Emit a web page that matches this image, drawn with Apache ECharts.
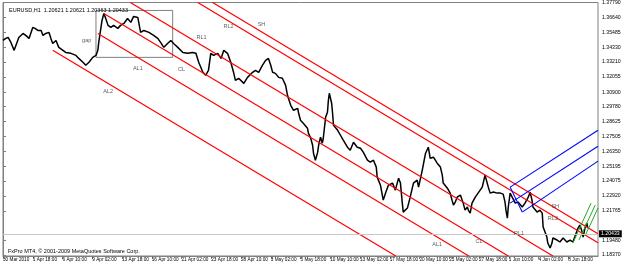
<!DOCTYPE html>
<html><head><meta charset="utf-8">
<script src="https://cdn.jsdelivr.net/npm/echarts@6/dist/echarts.min.js"></script>
<style>html,body{margin:0;padding:0;background:#fff}#c{width:625px;height:264px}</style>
</head><body><div id="c"></div>
<script>
// ---- data ----
const xTickLabels = ['30 Mar 2010','1 Apr 18:00','6 Apr 10:00','9 Apr 02:00','13 Apr 18:00','16 Apr 10:00','21 Apr 02:00','23 Apr 18:00','28 Apr 10:00','3 May 02:00','5 May 18:00','10 May 10:00','13 May 02:00','17 May 18:00','20 May 10:00','25 May 02:00','27 May 18:00','1 Jun 10:00','4 Jun 02:00','8 Jun 18:00'];
const barsPerLabel = 64;
const yTickValues = [1.37790,1.36640,1.35485,1.34330,1.33210,1.32055,1.30900,1.29780,1.28625,1.27505,1.26350,1.25195,1.24075,1.22920,1.21765,1.19480,1.18370];
const yMin = 1.18293, yMax = 1.37790, barMax = 1280;

const priceBars = [0,6,11,17,24,28,34,43,49,56,64,69,75,82,86,92,99,103,107,114,120,129,135,146,157,163,172,178,185,193,200,204,206,210,213,217,221,226,232,238,247,253,260,268,275,281,290,292,296,303,314,324,333,339,346,354,361,367,376,387,397,408,415,421,430,436,442,447,453,462,469,475,483,490,496,500,507,518,526,537,543,550,558,565,571,576,580,586,593,601,608,612,614,619,625,634,636,640,646,655,657,662,666,668,672,677,679,683,687,689,694,698,700,702,707,709,711,720,726,732,741,747,754,762,769,775,784,790,797,803,805,812,818,823,829,838,844,851,855,859,861,870,876,883,891,894,902,909,915,919,926,934,941,945,947,956,962,966,969,973,977,984,990,994,999,1001,1005,1009,1016,1022,1031,1037,1044,1048,1055,1063,1070,1076,1080,1082,1085,1087,1091,1095,1102,1108,1117,1123,1130,1134,1138,1140,1149,1155,1160,1162,1166,1170,1172,1177,1181,1183,1192,1198,1205,1213,1220,1226,1230,1237,1241,1246,1248,1252,1256,1258];
const priceVals = [1.3487,1.3503,1.3510,1.3472,1.3411,1.3426,1.3510,1.3541,1.3526,1.3503,1.3587,1.3580,1.3564,1.3564,1.3526,1.3541,1.3549,1.3503,1.3464,1.3487,1.3434,1.3411,1.3395,1.3388,1.3372,1.3349,1.3319,1.3296,1.3319,1.3357,1.3372,1.3411,1.3472,1.3487,1.3641,1.3695,1.3656,1.3603,1.3587,1.3603,1.3580,1.3603,1.3618,1.3656,1.3626,1.3672,1.3664,1.3626,1.3549,1.3564,1.3549,1.3526,1.3503,1.3472,1.3434,1.3464,1.3487,1.3464,1.3434,1.3395,1.3388,1.3395,1.3388,1.3319,1.3242,1.3219,1.3257,1.3388,1.3372,1.3388,1.3349,1.3411,1.3388,1.3319,1.3242,1.3180,1.3196,1.3157,1.3203,1.3242,1.3257,1.3242,1.3296,1.3334,1.3349,1.3296,1.3242,1.3234,1.3203,1.3196,1.3142,1.3065,1.3042,1.2988,1.2950,1.2965,1.2927,1.2873,1.2850,1.2812,1.2774,1.2736,1.2681,1.2620,1.2566,1.2628,1.2681,1.2743,1.2697,1.2735,1.2896,1.2935,1.3027,1.3081,1.3004,1.2927,1.2835,1.2796,1.2758,1.2720,1.2666,1.2643,1.2704,1.2666,1.2658,1.2628,1.2566,1.2551,1.2566,1.2513,1.2436,1.2374,1.2259,1.2313,1.2374,1.2390,1.2336,1.2428,1.2390,1.2236,1.2167,1.2198,1.2282,1.2390,1.2413,1.2359,1.2490,1.2620,1.2666,1.2581,1.2589,1.2543,1.2513,1.2451,1.2390,1.2351,1.2313,1.2259,1.2221,1.2244,1.2282,1.2298,1.2236,1.2182,1.2206,1.2182,1.2159,1.2236,1.2282,1.2313,1.2359,1.2451,1.2359,1.2313,1.2321,1.2313,1.2313,1.2305,1.2244,1.2182,1.2121,1.2206,1.2313,1.2298,1.2236,1.2244,1.2206,1.2236,1.2282,1.2321,1.2259,1.2206,1.2167,1.2182,1.2159,1.2052,1.2014,1.1975,1.1929,1.1891,1.1929,1.1968,1.1952,1.1937,1.1968,1.1937,1.1952,1.1937,1.1975,1.2044,1.2067,1.2014,1.1975,1.2044,1.2083,1.2043];
const lastPrice = 1.20433;
const titleText = 'EURUSD,H1  1.20621 1.20621 1.20363 1.20433';
const copyrightText = 'FxPro MT4, \u00a9 2001-2009 MetaQuotes Software Corp.';

// trend lines: [bar, price] end points
const al2Line = [[107,1.3411],[845,1.1829]];
const al1Line = [[204,1.3541],[1002,1.1829]];
const clLine  = [[217,1.3695],[1087,1.1829]];
const rl1Line = [[274,1.3779],[1183,1.1829]];
const rl2Line = [[419,1.3779],[1280,1.1932]];
const shLine  = [[451,1.3779],[1280,1.2001]];
const blueUpper  = [[1091,1.2359],[1280,1.2797]];
const blueMiddle = [[1091,1.2236],[1280,1.2674]];
const blueLower  = [[1117,1.2167],[1280,1.2559]];
const blueBase   = [[1091,1.2359],[1117,1.2167]];
const greenA = [[1226,1.1929],[1265,1.2236]];
const greenB = [[1239,1.1952],[1274,1.2221]];
const greenC = [[1252,1.1983],[1280,1.2198]];
const boxCorners = [[200,1.3718],[365,1.3357]];

const labelNames  = ['gap','AL2','AL1','CL','RL1','RL2','SH','AL1','CL','RL1','RL2','SH'];
const labelBars   = [180,226,290,384,427,485,556,934,1024,1110,1183,1188];
const labelPrices = [1.3487,1.3096,1.3272,1.3265,1.3510,1.3595,1.3610,1.1921,1.1944,1.2006,1.2121,1.2213];

// ---- chart ----
const FONT = 'Liberation Sans';
const xTickBars = xTickLabels.map((_, i) => i * barsPerLabel);
function seg(data, color, w) {
  return {type:'line', data:data, symbol:'none', showSymbol:false, silent:true,
          lineStyle:{color:color, width:w}, z:4, animation:false};
}
const chart = echarts.init(document.getElementById('c'), null, {renderer:'canvas'});
chart.setOption({
  animation:false,
  backgroundColor:'#ffffff',
  title:[
    {text:titleText, left:4, top:2, textStyle:{fontSize:5.5, fontWeight:'normal', color:'#000', fontFamily:FONT}},
    {text:copyrightText, left:3, top:243, textStyle:{fontSize:5.5, fontWeight:'normal', color:'#000', fontFamily:FONT}}
  ],
  grid:{left:2, right:27, top:2, bottom:8, show:true, borderColor:'#808080', borderWidth:1},
  xAxis:{type:'value', min:0, max:barMax,
    axisLine:{show:true, lineStyle:{color:'#808080'}},
    axisTick:{show:true, customValues:xTickBars, length:3, lineStyle:{color:'#808080'}},
    axisLabel:{customValues:xTickBars, showMinLabel:true, hideOverlap:false,
      formatter:v => xTickLabels[Math.round(v / barsPerLabel)] || '',
      align:'left', fontSize:4.7, color:'#000', margin:1, fontFamily:FONT},
    splitLine:{show:false}},
  yAxis:{type:'value', position:'right', min:yMin, max:yMax, scale:true,
    axisLine:{show:true, lineStyle:{color:'#808080'}},
    axisTick:{show:true, customValues:yTickValues, length:3, lineStyle:{color:'#808080'}},
    axisLabel:{customValues:yTickValues, formatter:v => v.toFixed(5), fontSize:5.2, color:'#000', margin:4, fontFamily:FONT},
    splitLine:{show:false}},
  series:[
    {type:'line', data:priceBars.map((b, i) => [b, priceVals[i]]), symbol:'none', showSymbol:false,
     lineStyle:{color:'#000', width:1.5}, z:3, silent:true,
     markLine:{symbol:'none', silent:true, animation:false, data:[{yAxis:lastPrice}],
       lineStyle:{color:'#c8c8c8', type:'solid', width:1},
       label:{show:true, position:'end', formatter:lastPrice.toFixed(5), backgroundColor:'#000', color:'#fff',
              fontSize:5.2, padding:[1,2], distance:1, fontFamily:FONT}},
     markArea:{silent:true, data:[[{coord:boxCorners[0]},{coord:boxCorners[1]}]],
       itemStyle:{color:'rgba(0,0,0,0)', borderColor:'#808080', borderWidth:1}}},
    seg(al2Line,'#ff0000',1.2), seg(al1Line,'#ff0000',1.2), seg(clLine,'#ff0000',1.2),
    seg(rl1Line,'#ff0000',1.2), seg(rl2Line,'#ff0000',1.2), seg(shLine,'#ff0000',1.2),
    seg(blueUpper,'#0000ff',1.1), seg(blueMiddle,'#0000ff',1.1), seg(blueLower,'#0000ff',1.1), seg(blueBase,'#0000ff',1.1),
    seg(greenA,'#22aa22',1), seg(greenB,'#22aa22',1), seg(greenC,'#22aa22',1),
    {type:'scatter', symbolSize:0, silent:true, z:5,
     data:labelBars.map((b, i) => ({value:[b, labelPrices[i]], name:labelNames[i]})),
     label:{show:true, position:'inside', formatter:p => p.name, fontSize:5.5, color:'#333', fontFamily:FONT}}
  ]
});
</script>
</body></html>
